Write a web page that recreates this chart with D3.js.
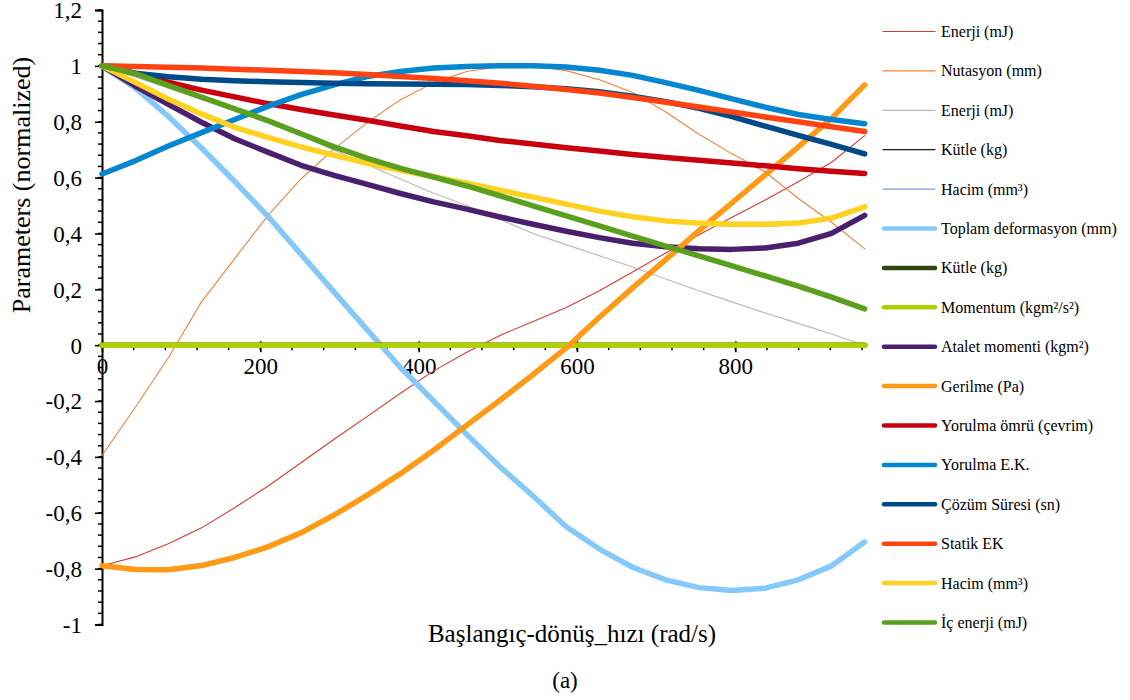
<!DOCTYPE html>
<html><head><meta charset="utf-8">
<script src="https://cdn.jsdelivr.net/npm/d3@7"></script>
<style>body{margin:0;background:#fff}svg{display:block}</style>
</head><body><svg id="c" width="1130" height="700" font-family="'Liberation Serif', 'Times New Roman', 'DejaVu Serif', serif"></svg>
<script>
// x values: rad/s
const speed = [0, 41.9, 83.8, 125.7, 167.6, 209.4, 251.3, 293.2, 335.1, 377.0, 418.9, 460.8, 502.7, 544.5, 586.4, 628.3, 670.2, 712.1, 754.0, 795.9, 837.8, 879.6, 921.5, 963.4];

const enerji1 = [-0.79,-0.758,-0.711,-0.654,-0.582,-0.505,-0.421,-0.337,-0.255,-0.172,-0.092,-0.025,0.035,0.085,0.135,0.195,0.262,0.33,0.395,0.458,0.52,0.585,0.655,0.75];
const nutasyon = [-0.395,-0.223,-0.045,0.155,0.31,0.464,0.595,0.703,0.797,0.879,0.94,0.98,0.998,1.0,0.983,0.95,0.905,0.835,0.755,0.685,0.62,0.525,0.44,0.345];
const enerji2 = [1.0,0.96,0.92,0.88,0.845,0.8,0.75,0.698,0.646,0.595,0.544,0.5,0.45,0.4,0.36,0.32,0.28,0.237,0.195,0.155,0.115,0.078,0.04,0.0];
const kutle1 = [0,0,0,0,0,0,0,0,0,0,0,0,0,0,0,0,0,0,0,0,0,0,0,0];
const hacim1 = [1.0,0.941,0.881,0.828,0.78,0.744,0.71,0.68,0.651,0.626,0.603,0.58,0.555,0.53,0.505,0.48,0.46,0.443,0.432,0.425,0.425,0.432,0.452,0.495];
const toplamDef = [1.0,0.921,0.819,0.706,0.586,0.462,0.326,0.19,0.055,-0.08,-0.2,-0.32,-0.435,-0.54,-0.65,-0.73,-0.795,-0.84,-0.868,-0.878,-0.87,-0.84,-0.79,-0.705];
const kutle2 = [0,0,0,0,0,0,0,0,0,0,0,0,0,0,0,0,0,0,0,0,0,0,0,0];
const momentum = [0,0,0,0,0,0,0,0,0,0,0,0,0,0,0,0,0,0,0,0,0,0,0,0];
const atalet = [1.0,0.928,0.862,0.798,0.739,0.691,0.644,0.608,0.576,0.543,0.513,0.487,0.459,0.433,0.408,0.385,0.365,0.352,0.345,0.343,0.348,0.365,0.4,0.465];
const gerilme = [-0.79,-0.803,-0.804,-0.789,-0.76,-0.722,-0.672,-0.608,-0.537,-0.46,-0.376,-0.286,-0.197,-0.105,-0.01,0.1,0.205,0.306,0.41,0.51,0.61,0.71,0.812,0.932];
const yorulmaOmru = [1.0,0.973,0.942,0.913,0.889,0.865,0.844,0.824,0.805,0.785,0.765,0.75,0.733,0.72,0.707,0.695,0.683,0.672,0.662,0.652,0.642,0.632,0.623,0.615];
const yorulmaEK = [0.613,0.66,0.713,0.761,0.808,0.855,0.897,0.932,0.962,0.98,0.992,0.998,1.0,1.0,0.996,0.984,0.966,0.94,0.912,0.882,0.852,0.826,0.808,0.793];
const cozumSuresi = [1.0,0.974,0.961,0.952,0.947,0.943,0.94,0.938,0.936,0.935,0.934,0.933,0.93,0.925,0.918,0.907,0.891,0.872,0.848,0.818,0.784,0.751,0.719,0.685];
const statikEK = [1.0,0.998,0.995,0.992,0.988,0.984,0.98,0.975,0.969,0.962,0.955,0.947,0.938,0.927,0.915,0.903,0.887,0.87,0.853,0.835,0.817,0.8,0.782,0.765];
const hacim2 = [1.0,0.941,0.881,0.828,0.78,0.744,0.71,0.68,0.651,0.626,0.603,0.58,0.555,0.53,0.505,0.48,0.46,0.445,0.437,0.433,0.433,0.437,0.455,0.495];
const icEnerji = [1.0,0.972,0.93,0.888,0.846,0.804,0.757,0.71,0.669,0.633,0.602,0.57,0.535,0.499,0.463,0.427,0.39,0.355,0.32,0.284,0.248,0.211,0.172,0.13];

const seriesNames = ["Enerji (mJ)","Nutasyon (mm)","Enerji (mJ)","Kütle (kg)","Hacim (mm³)","Toplam deformasyon (mm)","Kütle (kg)","Momentum (kgm²/s²)","Atalet momenti (kgm²)","Gerilme (Pa)","Yorulma ömrü (çevrim)","Yorulma E.K.","Çözüm Süresi (sn)","Statik EK","Hacim (mm³)","İç enerji (mJ)"];
const seriesValues = [enerji1,nutasyon,enerji2,kutle1,hacim1,toplamDef,kutle2,momentum,atalet,gerilme,yorulmaOmru,yorulmaEK,cozumSuresi,statikEK,hacim2,icEnerji];
const seriesColors = ["#dc3a34","#f5823a","#b8b8b8","#1a1a1a","#7b9be0","#85c9fa","#2e4710","#aed000","#4a1f6e","#ff9916","#c8000e","#0486d0","#004a87","#ff4212","#ffd221","#5b9f1f"];
const seriesThick = [false,false,false,false,false,true,true,true,true,true,true,true,true,true,true,true];

const yTicks = [-1,-0.8,-0.6,-0.4,-0.2,0,0.2,0.4,0.6,0.8,1,1.2];
const xTicks = [0,200,400,600,800];

const FONT = "'Liberation Serif', 'Times New Roman', 'DejaVu Serif', serif";
const svg = d3.select("#c");
const x = d3.scaleLinear().domain([0,960]).range([102,862]);
const y = d3.scaleLinear().domain([-1,1.2]).range([624.5,10]);
const fmt = v => String(+v.toFixed(1)).replace(".",",");

// y axis
const yAxis = d3.axisLeft(y).tickValues(yTicks).tickSize(7).tickFormat(fmt).tickPadding(0);
const gy = svg.append("g").attr("transform","translate(102,0)").call(yAxis).attr("font-family",FONT).attr("font-size",23);
gy.select(".domain").attr("stroke","#000").attr("stroke-width",2);
gy.selectAll(".tick line").attr("stroke","#000").attr("stroke-width",1.6);
gy.selectAll(".tick text").attr("x",-20).attr("dy","0.34em").attr("fill","#000");
const yMinor = d3.range(-1,1.2001,0.04).map(v=>+v.toFixed(2));
gy.selectAll(".minor").data(yMinor).enter().append("line").attr("class","minor")
  .attr("x1",-4).attr("x2",0).attr("y1",d=>y(d)).attr("y2",d=>y(d)).attr("stroke","#000").attr("stroke-width",1.5);

// x axis at zero
const xAxis = d3.axisBottom(x).tickValues(xTicks).tickSize(7).tickFormat(d=>String(d)).tickPadding(0);
const gx = svg.append("g").attr("transform",`translate(0,${y(0)})`).call(xAxis).attr("font-family",FONT).attr("font-size",23);
gx.select(".domain").attr("stroke","#000").attr("stroke-width",1.6).attr("d",`M102,0H864`);
gx.selectAll(".tick line").attr("stroke","#000").attr("stroke-width",1.6).attr("y1",-4);
gx.selectAll(".tick text").attr("y",12).attr("dy","0.71em").attr("fill","#000");
const xMinor = d3.range(40,961,40);
gx.selectAll(".minor").data(xMinor).enter().append("line").attr("class","minor")
  .attr("x1",d=>x(d)).attr("x2",d=>x(d)).attr("y1",0).attr("y2",5).attr("stroke","#000").attr("stroke-width",1.5);

// lines
const line = d3.line().x((d,i)=>x(speed[i])).y(d=>y(d)).curve(d3.curveLinear);
const gl = svg.append("g");
seriesValues.forEach((vals,i)=>{
  gl.append("path").attr("d",line(vals)).attr("fill","none")
    .attr("stroke",seriesColors[i]).attr("stroke-width",seriesThick[i]?5.5:1.1)
    .attr("stroke-linecap","round").attr("stroke-linejoin","round");
});

// legend
const lg = svg.append("g").attr("font-family",FONT).attr("font-size",16);
seriesNames.forEach((n,i)=>{
  const yy = 31.5 + i*39.4;
  lg.append("line").attr("x1",seriesThick[i]?884:883).attr("x2",935).attr("y1",yy).attr("y2",yy)
    .attr("stroke",seriesColors[i]).attr("stroke-width",seriesThick[i]?4.5:1.2).attr("stroke-linecap","round");
  lg.append("text").attr("x",941).attr("y",yy+5.5).attr("fill","#000").text(n);
});

// titles
svg.append("text").attr("transform","translate(30,185) rotate(-90)").attr("text-anchor","middle")
  .attr("font-size",26).attr("fill","#000").text("Parameters (normalized)");
svg.append("text").attr("x",572).attr("y",642).attr("text-anchor","middle").attr("font-size",25).attr("fill","#000").text("Başlangıç-dönüş_hızı (rad/s)");
svg.append("text").attr("x",565).attr("y",688).attr("text-anchor","middle").attr("font-size",23).attr("fill","#000").text("(a)");
</script></body></html>
